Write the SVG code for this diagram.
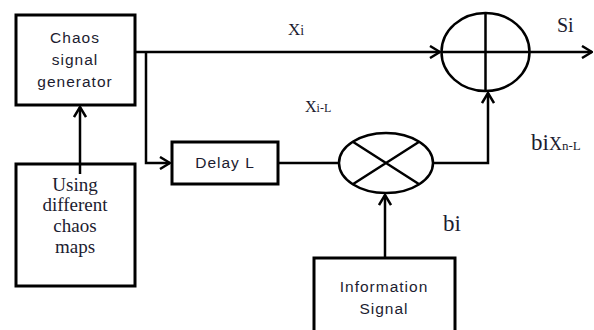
<svg xmlns="http://www.w3.org/2000/svg" width="594" height="330" viewBox="0 0 594 330">
<defs>
<marker id="arr" viewBox="0 0 12 14" refX="11" refY="7" markerWidth="12" markerHeight="14" markerUnits="userSpaceOnUse" orient="auto">
<path d="M1,1 L11,7 L1,13" fill="none" stroke="#000" stroke-width="2.5"/>
</marker>
<style>
.box{fill:#fff;stroke:#000;stroke-width:3}
.ln{fill:none;stroke:#000;stroke-width:2.5}
.sans{font-family:"Liberation Sans",Arial,sans-serif;font-size:15.5px;fill:#1c1c30;text-anchor:middle;letter-spacing:1px}
.serif{font-family:"Liberation Serif","Times New Roman",serif;fill:#1c1c30}
</style>
</defs>
<rect width="594" height="330" fill="#fff"/>
<g id="connectors">
<path class="ln" d="M135,52 H440" marker-end="url(#arr)"/>
<path class="ln" d="M146,52 V163 H170" marker-end="url(#arr)"/>
<path class="ln" d="M80,174 V107" marker-end="url(#arr)"/>
<path class="ln" d="M278,163 H339"/>
<path class="ln" d="M433,163 H488 V93" marker-end="url(#arr)"/>
<path class="ln" d="M529,52 H592" marker-end="url(#arr)"/>
<path class="ln" d="M385,258 V195" marker-end="url(#arr)"/>
</g>
<g id="chaos-generator">
<rect class="box" x="16" y="15" width="119" height="90"/>
<text class="sans" x="75" y="43">Chaos</text>
<text class="sans" x="75" y="65">signal</text>
<text class="sans" x="75" y="87">generator</text>
</g>
<g id="chaos-maps">
<rect class="box" x="16" y="164" width="119" height="122"/>
<path class="ln" d="M80,164 V174"/>
<text class="serif" x="75" y="191" font-size="19" text-anchor="middle">Using</text>
<text class="serif" x="75" y="211" font-size="19" text-anchor="middle">different</text>
<text class="serif" x="75" y="232" font-size="19" text-anchor="middle">chaos</text>
<text class="serif" x="75" y="253" font-size="19" text-anchor="middle">maps</text>
</g>
<g id="delay">
<rect class="box" x="172" y="142" width="106" height="42"/>
<text class="sans" x="225" y="168">Delay L</text>
</g>
<g id="multiplier">
<ellipse class="ln" cx="386" cy="163" rx="47" ry="30"/>
<path class="ln" d="M352.8,184.2 L419.2,141.8 M352.8,141.8 L419.2,184.2"/>
</g>
<g id="adder">
<ellipse class="ln" cx="485.5" cy="52" rx="44" ry="39"/>
<path class="ln" d="M441.5,52 H529.5 M485.5,13 V91"/>
</g>
<g id="information">
<rect class="box" x="314" y="258" width="141" height="80"/>
<text class="sans" x="384" y="292">Information</text>
<text class="sans" x="384" y="314">Signal</text>
</g>
<g id="labels">
<text class="serif" x="288" y="35" font-size="17">X<tspan font-size="14">i</tspan></text>
<text class="serif" x="557" y="32" font-size="20">Si</text>
<text class="serif" x="305" y="112" font-size="16">X<tspan font-size="12">i-L</tspan></text>
<text class="serif" x="531" y="150" font-size="23">bi<tspan font-size="18">X</tspan><tspan font-size="13">n-L</tspan></text>
<text class="serif" x="443" y="231" font-size="23">bi</text>
</g>
</svg>
